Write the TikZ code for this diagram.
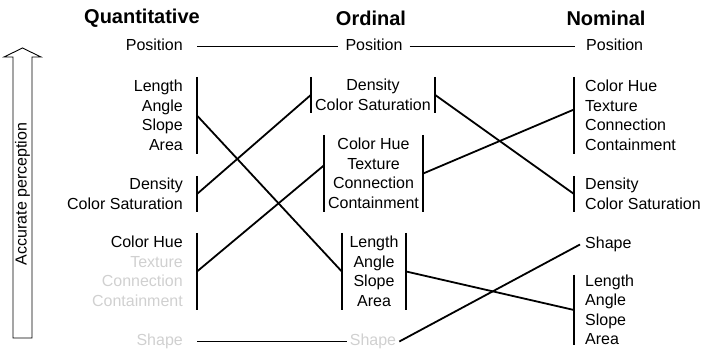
\documentclass[tikz,border=0pt]{standalone}
\usepackage{fontspec}
\setmainfont{Liberation Sans}
\definecolor{faint}{RGB}{208,208,208}

\begin{document}
\begin{tikzpicture}[x=1pt, y=-1pt,
    every node/.style={font=\fontsize{16}{19.5}\selectfont, inner ysep=0pt},
    head/.style={font=\fontsize{20}{24}\selectfont\bfseries},
    single/.style={text height=11.5pt, text depth=3.5pt},
    quant/.style={anchor=east, align=right, inner xsep=14pt},
    ord/.style={align=center, inner xsep=0pt},
    nom/.style={anchor=west, align=left, inner xsep=11pt},
    link/.style={line width=1.8pt},
    bar/.style={line width=1.8pt}]

    \useasboundingbox (0,0) rectangle (704,350);

    % Column titles
    \node[head] at (142, 18) (quantTitle) {Quantitative};
    \node[head] at (371, 18) (ordTitle) {Ordinal};
    \node[head] at (606, 18) (nomTitle) {Nominal};

    % Perception arrow
    \draw[line width=0.9pt] (13,338) -- (13,57) -- (4,57) -- (22.5,48) -- (41,57) -- (32,57) -- (32,338) -- cycle;
    \node[rotate=90] at (22.5, 194) (accText) {Accurate perception};

    % Quantitative column
    \node[quant, single] at (197, 46.5) (qPos) {Position};
    \node[quant, minimum height=77pt] at (197, 115.5) (qLen) {Length\\Angle\\Slope\\Area};
    \node[quant, minimum height=36pt] at (197, 194) (qDen) {Density\\Color Saturation};
    \node[quant, minimum height=77pt] at (197, 271.5) (qHue) {Color Hue\\\textcolor{faint}{Texture}\\\textcolor{faint}{Connection}\\\textcolor{faint}{Containment}};
    \node[quant, single, text=faint] at (197, 341.5) (qShape) {Shape};

    % Ordinal column
    \node[ord, single, inner xsep=7pt] at (374, 46.5) (oPos) {Position};
    \node[ord, minimum width=124pt, minimum height=36pt] at (373, 95) (oDen) {Density\\Color Saturation};
    \node[ord, minimum width=99pt, minimum height=77pt] at (373.5, 173.5) (oHue) {Color Hue\\Texture\\Connection\\Containment};
    \node[ord, minimum width=64pt, minimum height=77pt] at (374, 271.5) (oLen) {Length\\Angle\\Slope\\Area};
    \node[ord, single, inner xsep=3pt, text=faint] at (373, 341.5) (oShape) {Shape};

    % Nominal column
    \node[nom, single] at (575, 46.5) (nPos) {Position};
    \node[nom, minimum height=77pt] at (574, 115.5) (nHue) {Color Hue\\Texture\\Connection\\Containment};
    \node[nom, minimum height=36pt] at (574, 194) (nDen) {Density\\Color Saturation};
    \node[nom, single, inner xsep=5pt] at (580, 244.5) (nShape) {Shape};
    \node[nom, minimum height=70pt] at (574, 310) (nLen) {Length\\Angle\\Slope\\Area};

    % Group bars
    \foreach \grp in {qLen, qDen, qHue}
        \draw[bar] (\grp.north east) -- (\grp.south east);
    \foreach \grp in {oDen, oHue, oLen}
        \draw[bar] (\grp.north west) -- (\grp.south west) (\grp.north east) -- (\grp.south east);
    \foreach \grp in {nHue, nDen, nLen}
        \draw[bar] (\grp.north west) -- (\grp.south west);

    % Quantitative to ordinal
    \draw[link] (qPos) -- (oPos) -- (nPos);
    \draw[link] (qLen.east) -- (oLen.west);
    \draw[link] (qDen.east) -- (oDen.west);
    \draw[link] (qHue.east) -- ([yshift=8pt]oHue.west);
    \draw[link] (qShape.east) -- (oShape.west);

    % Ordinal to nominal
    \draw[link] (oDen.east) -- (nDen.west);
    \draw[link] (oHue.east) -- ([yshift=6pt]nHue.west);
    \draw[link] (oLen.east) -- (nLen.west);
    \draw[link] (oShape.east) -- (nShape.west);
\end{tikzpicture}
\end{document}
